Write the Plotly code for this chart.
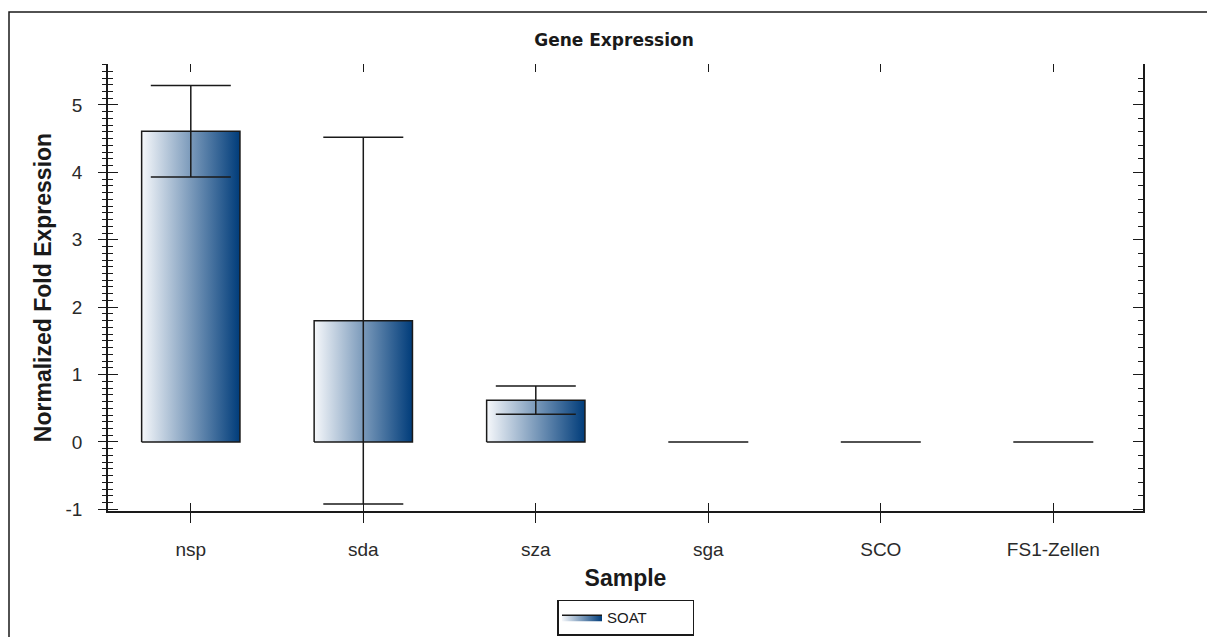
import plotly.graph_objects as go

categories = ["nsp", "sda", "sza", "sga", "SCO", "FS1-Zellen"]
values = [4.61, 1.80, 0.62, 0.0, 0.0, 0.0]
errors = [0.68, 2.72, 0.21, 0.0, 0.0, 0.0]
series_name = "SOAT"
y_major = [-1, 0, 1, 2, 3, 4, 5]
y_labels = [str(v) for v in y_major]

BAR_HALF = 0.285
GRAD = [[0, "#f6f8fb"], [1, "#003c7a"]]
INK = "#1a1a1a"

fig = go.Figure()
idx = list(range(len(categories)))
for i, v in zip(idx, values):
    if v == 0:
        continue
    fig.add_trace(go.Scatter(
        x=[i - BAR_HALF, i + BAR_HALF, i + BAR_HALF, i - BAR_HALF, i - BAR_HALF],
        y=[0, 0, v, v, 0],
        mode="lines", fill="toself",
        fillgradient=dict(type="horizontal", colorscale=GRAD),
        line=dict(color=INK, width=1.5),
        name=series_name, legendgroup="s", showlegend=(i == 0),
        hoverinfo="skip",
    ))

fig.add_trace(go.Scatter(
    x=idx, y=values, mode="markers",
    marker=dict(size=1, color="rgba(0,0,0,0)"),
    error_y=dict(type="data", array=errors, visible=True, width=40,
                 thickness=1.5, color=INK),
    showlegend=False, hoverinfo="skip",
))

axfont = dict(family="Liberation Sans, Arial, sans-serif", size=19, color="#2a2a2a")
ttlfont = dict(family="Liberation Sans, Arial, sans-serif", size=23, color=INK)

XR = [-0.48, 5.52]
YR = [-1.024, 5.608]
minor01 = [round(-1 + 0.1 * k, 1) for k in range(67)]
minor02 = [round(-1 + 0.2 * k, 1) for k in range(34)]

L, R, T, B = 100, 80, 56, 134
W, H = 1215, 637
PW, PH = W - L - R, H - T - B

common = dict(showgrid=False, zeroline=False, tickcolor=INK, linecolor=INK)

fig.update_layout(
    width=W, height=H,
    margin=dict(l=L, r=R, t=T, b=B, autoexpand=False),
    paper_bgcolor="white", plot_bgcolor="white",
    title=dict(text="<b>Gene Expression</b>", x=606 / W, xanchor="center",
               y=1 - 32 / H, yanchor="middle",
               font=dict(family="DejaVu Sans, Verdana, sans-serif", size=17, color=INK)),
    xaxis=dict(range=XR, tickmode="array", tickvals=idx, ticktext=categories,
               showline=True, linewidth=1.5, ticks="outside", ticklen=10,
               tickfont=axfont, ticklabelstandoff=10, **common,
               title=dict(text="<b>Sample</b>", font=ttlfont, standoff=11)),
    xaxis2=dict(range=XR, overlaying="x", side="bottom", tickmode="array", tickvals=idx,
                showticklabels=False, showline=False, ticks="inside", ticklen=8,
                mirror="ticks", **common),
    yaxis=dict(range=YR, tickmode="array", tickvals=y_major, ticktext=y_labels,
               showline=True, linewidth=1.5, ticks="outside", ticklen=8,
               tickfont=axfont, ticklabelstandoff=12, mirror=True, **common,
               minor=dict(tickmode="array", tickvals=minor01, ticks="outside",
                          ticklen=4, tickcolor=INK),
               title=dict(text="<b>Normalized Fold Expression</b>", font=ttlfont,
                          standoff=7)),
    yaxis2=dict(range=YR, overlaying="y", side="left", tickmode="array",
                tickvals=y_major, showticklabels=False, showline=False,
                ticks="inside", ticklen=10, **common,
                minor=dict(tickmode="array", tickvals=minor01, ticks="inside",
                           ticklen=5, tickcolor=INK)),
    yaxis3=dict(range=YR, overlaying="y", side="right", tickmode="array",
                tickvals=y_major, showticklabels=False, showline=False,
                ticks="inside", ticklen=10, **common,
                minor=dict(tickmode="array", tickvals=minor02, ticks="inside",
                           ticklen=5, tickcolor=INK)),
    legend=dict(orientation="h", x=0.5, xanchor="center", y=-0.198, yanchor="top",
                bordercolor=INK, borderwidth=1.5, bgcolor="white",
                itemwidth=40, entrywidth=80, entrywidthmode="pixels",
                font=dict(family="Liberation Sans, Arial, sans-serif", size=15, color=INK)),
    shapes=[dict(type="rect", xref="paper", yref="paper",
                 x0=(1 - L) / PW, x1=1.2, y0=-0.5, y1=(PH + T - 4) / PH,
                 line=dict(color=INK, width=1.5), layer="below")],
)

fig.add_trace(go.Scatter(x=[0], y=[0], xaxis="x2", yaxis="y2", mode="markers",
                         marker=dict(size=1, color="rgba(0,0,0,0)"),
                         showlegend=False, hoverinfo="skip"))
fig.add_trace(go.Scatter(x=[0], y=[0], xaxis="x", yaxis="y3", mode="markers",
                         marker=dict(size=1, color="rgba(0,0,0,0)"),
                         showlegend=False, hoverinfo="skip"))

fig.write_html("out.html")
